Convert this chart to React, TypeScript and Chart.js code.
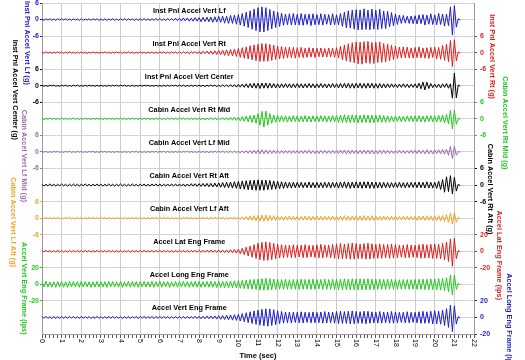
import React, { useEffect, useRef } from 'react';
import { Chart, registerables } from 'chart.js';

Chart.register(...registerables);

// ---------- data ----------
const SAMPLE_STEP = 0.1; // seconds between stored samples
const TIME_TICKS = [0, 1, 2, 3, 4, 5, 6, 7, 8, 9, 10, 11, 12, 13, 14, 15, 16, 17, 18, 19, 20, 21, 22];
const TRACE_NAMES = [
  'Inst Pnl Accel Vert Lf',
  'Inst Pnl Accel Vert Rt',
  'Inst Pnl Accel Vert Center',
  'Cabin Accel Vert Rt Mid',
  'Cabin Accel Vert Lf Mid',
  'Cabin Accel Vert Rt Aft',
  'Cabin Accel Vert Lf Aft',
  'Accel Lat Eng Frame',
  'Accel Long Eng Frame',
  'Accel Vert Eng Frame',
];
const AXIS_TITLES = [
  'Inst Pnl Accel Vert Lf (g)',
  'Inst Pnl Accel Vert Rt (g)',
  'Inst Pnl Accel Vert Center (g)',
  'Cabin Accel Vert Rt Mid (g)',
  'Cabin Accel Vert Lf Mid (g)',
  'Cabin Accel Vert Rt Aft (g)',
  'Cabin Accel Vert Lf Aft (g)',
  'Accel Lat Eng Frame (ips)',
  'Accel Vert Eng Frame (ips)',
  'Accel Long Eng Frame (ips)',
];
const AXIS_LIMITS = [6, 6, 6, 6, 6, 6, 6, 20, 20, 20];
const X_AXIS_TITLE = 'Time (sec)';

const instPnlVertLf = [
  0.2,-0.3,0.3,-0.2,0.3,-0.3,0.2,-0.3,0.3,-0.2,
  0.3,-0.2,0.3,-0.3,0.2,-0.3,0.3,-0.2,0.2,-0.3,
  0.3,-0.3,0.2,-0.2,0.3,-0.3,0.3,-0.2,0.3,-0.3,
  0.2,-0.3,0.3,-0.3,0.2,-0.2,0.3,-0.3,0.2,-0.3,
  0.3,-0.2,0.3,-0.3,0.3,-0.2,0.2,-0.3,0.3,-0.3,
  0.3,-0.3,0.4,-0.3,0.3,-0.4,0.3,-0.3,0.4,-0.3,
  0.4,-0.4,0.3,-0.4,0.4,-0.3,0.4,-0.4,0.5,-0.4,
  0.5,-0.5,0.6,-0.5,0.6,-0.6,0.5,-0.6,0.7,-0.6,
  0.7,-0.8,0.8,-0.7,0.9,-0.8,0.9,-1.0,1.0,-0.9,
  1.1,-1.0,1.2,-1.3,1.2,-1.4,1.5,-1.4,1.6,-1.7,
  1.8,-2.0,2.2,-2.4,2.7,-2.9,3.2,-3.5,3.8,-4.0,
  4.3,-4.5,4.6,-4.5,4.3,-4.0,3.7,-3.4,3.1,-2.9,
  2.7,-2.5,2.3,-2.1,2.0,-1.9,2.1,-2.0,2.2,-2.0,
  1.9,-2.0,2.2,-2.1,1.9,-1.8,2.0,-2.2,2.1,-1.9,
  1.8,-1.9,2.1,-2.0,1.9,-1.7,1.8,-2.0,2.1,-1.9,
  1.7,-1.9,2.2,-2.5,2.7,-3.0,3.2,-3.1,3.4,-3.5,
  3.6,-3.8,3.5,-3.7,3.9,-3.6,3.4,-3.7,3.8,-3.5,
  3.4,-3.6,3.7,-3.3,3.1,-3.3,3.0,-2.7,2.5,-2.3,
  2.0,-1.8,1.6,-1.4,1.5,-1.3,1.2,-1.4,1.3,-1.5,
  1.4,-1.6,1.7,-1.5,1.8,-2.0,1.6,-1.7,2.1,-1.8,
  1.7,-1.9,2.2,-1.8,2.0,-2.4,1.9,-2.2,4.6,-5.6,
  5.0,-2.8,0.3,-0.2,
];
const instPnlVertRt = [
  0.2,-0.2,0.3,-0.2,0.2,-0.3,0.2,-0.2,0.3,-0.2,
  0.2,-0.3,0.2,-0.2,0.3,-0.2,0.2,-0.3,0.2,-0.2,
  0.3,-0.2,0.2,-0.3,0.2,-0.2,0.3,-0.2,0.2,-0.3,
  0.2,-0.2,0.3,-0.2,0.2,-0.3,0.2,-0.2,0.3,-0.2,
  0.2,-0.3,0.2,-0.2,0.3,-0.2,0.2,-0.3,0.2,-0.2,
  0.3,-0.2,0.2,-0.3,0.2,-0.2,0.3,-0.3,0.2,-0.3,
  0.3,-0.2,0.3,-0.3,0.2,-0.3,0.3,-0.2,0.3,-0.3,
  0.3,-0.3,0.4,-0.3,0.3,-0.4,0.4,-0.3,0.4,-0.4,
  0.4,-0.5,0.5,-0.4,0.6,-0.5,0.6,-0.6,0.7,-0.7,
  0.8,-0.8,0.9,-1.0,1.0,-1.1,1.2,-1.2,1.3,-1.4,
  1.5,-1.7,1.8,-2.0,2.1,-2.3,2.5,-2.6,2.8,-2.9,
  3.0,-3.2,3.3,-3.2,3.3,-3.1,3.0,-2.8,2.7,-2.5,
  2.4,-2.3,2.2,-2.1,2.0,-1.9,2.0,-1.8,1.9,-2.0,
  1.8,-1.7,1.9,-1.8,1.6,-1.7,1.8,-1.6,1.7,-1.8,
  1.6,-1.5,1.7,-1.6,1.5,-1.6,1.7,-1.5,1.6,-1.7,
  1.8,-2.0,2.3,-2.6,2.8,-3.0,3.2,-3.4,3.6,-3.7,
  3.9,-4.1,3.8,-4.2,4.0,-3.8,4.1,-3.9,3.7,-4.0,
  3.8,-3.6,3.9,-3.5,3.3,-3.4,3.1,-2.9,2.7,-2.5,
  2.3,-2.1,2.0,-1.9,2.1,-1.8,2.0,-1.9,1.7,-2.0,
  1.9,-1.8,2.1,-1.9,1.7,-2.0,1.8,-2.1,1.9,-1.7,
  2.0,-2.2,1.9,-2.4,2.6,-2.8,3.0,-3.3,4.4,-5.0,
  4.7,-3.0,0.3,-0.2,
];
const instPnlVertCenter = [
  0.2,-0.2,0.1,-0.2,0.2,-0.1,0.2,-0.2,0.1,-0.2,
  0.2,-0.1,0.2,-0.2,0.1,-0.2,0.2,-0.1,0.2,-0.2,
  0.1,-0.2,0.2,-0.2,0.2,-0.1,0.1,-0.2,0.2,-0.2,
  0.2,-0.2,0.1,-0.2,0.2,-0.2,0.2,-0.1,0.2,-0.2,
  0.2,-0.1,0.2,-0.2,0.1,-0.2,0.2,-0.2,0.1,-0.2,
  0.2,-0.2,0.2,-0.1,0.2,-0.2,0.1,-0.2,0.2,-0.2,
  0.1,-0.2,0.2,-0.2,0.2,-0.2,0.2,-0.1,0.2,-0.2,
  0.2,-0.2,0.2,-0.2,0.1,-0.2,0.2,-0.2,0.2,-0.2,
  0.2,-0.2,0.2,-0.3,0.2,-0.2,0.3,-0.2,0.2,-0.3,
  0.2,-0.3,0.3,-0.3,0.3,-0.4,0.4,-0.4,0.4,-0.5,
  0.5,-0.5,0.6,-0.6,0.7,-0.7,0.8,-0.8,0.9,-0.9,
  0.9,-1.0,1.0,-0.9,1.0,-0.9,0.9,-0.8,0.8,-0.8,
  0.7,-0.8,0.7,-0.7,0.8,-0.7,0.7,-0.8,0.7,-0.7,
  0.8,-0.7,0.7,-0.8,0.7,-0.7,0.8,-0.7,0.7,-0.8,
  0.7,-0.7,0.8,-0.7,0.7,-0.8,0.7,-0.7,0.8,-0.7,
  0.7,-0.8,0.8,-0.8,0.9,-0.8,0.9,-0.9,0.8,-0.9,
  0.9,-0.8,0.9,-0.9,0.8,-0.9,0.9,-0.8,0.9,-0.9,
  0.8,-0.9,0.8,-0.8,0.7,-0.8,0.7,-0.7,0.7,-0.6,
  0.6,-0.7,0.6,-0.6,0.7,-0.6,0.6,-0.7,0.6,-0.6,
  0.7,-0.8,0.9,-1.1,1.3,-1.5,1.3,-1.0,0.8,-0.7,
  0.6,-0.7,0.6,-0.8,0.7,-0.6,0.8,-0.9,0.7,-4.5,
  4.6,-4.4,0.3,-0.2,
];
const cabinVertRtMid = [
  0.2,-0.3,0.2,-0.2,0.3,-0.2,0.2,-0.3,0.2,-0.2,
  0.3,-0.2,0.2,-0.3,0.2,-0.2,0.3,-0.2,0.2,-0.3,
  0.2,-0.2,0.3,-0.2,0.2,-0.3,0.2,-0.2,0.3,-0.2,
  0.2,-0.3,0.2,-0.2,0.3,-0.2,0.2,-0.3,0.2,-0.2,
  0.3,-0.2,0.2,-0.3,0.2,-0.2,0.3,-0.2,0.2,-0.3,
  0.2,-0.2,0.3,-0.2,0.2,-0.3,0.2,-0.3,0.3,-0.2,
  0.3,-0.3,0.2,-0.3,0.3,-0.2,0.3,-0.3,0.2,-0.3,
  0.3,-0.2,0.3,-0.3,0.3,-0.3,0.2,-0.3,0.3,-0.3,
  0.3,-0.3,0.3,-0.4,0.3,-0.3,0.4,-0.3,0.4,-0.4,
  0.3,-0.3,0.4,-0.4,0.4,-0.5,0.5,-0.5,0.6,-0.6,
  0.7,-0.8,0.8,-0.9,1.0,-1.1,1.2,-1.3,1.4,-1.6,
  1.9,-2.3,2.7,-3.0,2.8,-2.3,1.9,-1.6,1.4,-1.3,
  1.2,-1.1,1.2,-1.0,1.1,-1.2,1.0,-1.1,1.2,-1.0,
  1.1,-1.2,1.0,-1.1,1.2,-1.1,1.0,-1.2,1.1,-1.0,
  1.0,-1.1,1.2,-1.0,1.1,-1.2,1.0,-1.1,1.2,-1.1,
  1.2,-1.3,1.4,-1.3,1.5,-1.4,1.3,-1.4,1.5,-1.3,
  1.4,-1.5,1.3,-1.4,1.5,-1.3,1.4,-1.5,1.3,-1.4,
  1.3,-1.2,1.4,-1.3,1.2,-1.3,1.1,-1.2,1.0,-1.1,
  1.0,-0.9,1.0,-1.1,0.9,-1.0,1.1,-0.9,1.0,-1.0,
  1.1,-1.0,1.2,-1.1,1.0,-1.2,1.1,-1.0,1.2,-1.1,
  1.1,-1.2,1.3,-1.1,1.4,-1.5,1.6,-1.8,3.0,-3.6,
  3.2,-2.0,0.2,-0.2,
];
const cabinVertLfMid = [
  0.2,-0.1,0.2,-0.2,0.1,-0.2,0.2,-0.1,0.2,-0.2,
  0.1,-0.2,0.2,-0.1,0.2,-0.2,0.1,-0.2,0.2,-0.1,
  0.2,-0.2,0.1,-0.2,0.2,-0.1,0.2,-0.2,0.1,-0.2,
  0.2,-0.1,0.2,-0.2,0.2,-0.2,0.1,-0.2,0.2,-0.1,
  0.1,-0.2,0.2,-0.2,0.1,-0.2,0.2,-0.1,0.2,-0.2,
  0.2,-0.2,0.1,-0.2,0.2,-0.2,0.2,-0.1,0.2,-0.2,
  0.2,-0.1,0.2,-0.2,0.2,-0.2,0.1,-0.2,0.2,-0.2,
  0.2,-0.2,0.2,-0.1,0.2,-0.2,0.2,-0.2,0.1,-0.2,
  0.2,-0.2,0.2,-0.2,0.2,-0.3,0.2,-0.2,0.3,-0.2,
  0.3,-0.2,0.3,-0.3,0.2,-0.3,0.3,-0.3,0.3,-0.3,
  0.3,-0.4,0.4,-0.4,0.5,-0.5,0.5,-0.6,0.6,-0.6,
  0.7,-0.7,0.8,-0.7,0.7,-0.7,0.6,-0.6,0.6,-0.5,
  0.5,-0.6,0.5,-0.5,0.6,-0.5,0.5,-0.6,0.5,-0.5,
  0.6,-0.5,0.5,-0.6,0.6,-0.5,0.6,-0.6,0.5,-0.6,
  0.5,-0.6,0.6,-0.5,0.6,-0.6,0.5,-0.6,0.6,-0.5,
  0.6,-0.6,0.7,-0.6,0.7,-0.7,0.6,-0.7,0.7,-0.6,
  0.7,-0.7,0.6,-0.7,0.7,-0.6,0.7,-0.7,0.6,-0.7,
  0.6,-0.7,0.6,-0.6,0.7,-0.6,0.6,-0.6,0.5,-0.6,
  0.5,-0.5,0.6,-0.5,0.5,-0.6,0.5,-0.5,0.6,-0.5,
  0.6,-0.6,0.7,-0.6,0.6,-0.7,0.8,-0.7,0.6,-0.7,
  0.7,-0.6,0.8,-0.7,0.9,-0.8,1.0,-1.2,2.0,-2.4,
  2.0,-1.2,0.2,-0.1,
];
const cabinVertRtAft = [
  0.3,-0.4,0.3,-0.3,0.4,-0.3,0.3,-0.4,0.3,-0.3,
  0.4,-0.3,0.3,-0.4,0.3,-0.3,0.4,-0.3,0.3,-0.4,
  0.3,-0.3,0.4,-0.3,0.3,-0.4,0.3,-0.3,0.4,-0.3,
  0.3,-0.4,0.3,-0.3,0.4,-0.3,0.3,-0.4,0.3,-0.3,
  0.4,-0.3,0.3,-0.4,0.3,-0.3,0.4,-0.3,0.3,-0.4,
  0.3,-0.3,0.4,-0.4,0.3,-0.4,0.4,-0.3,0.4,-0.4,
  0.4,-0.4,0.3,-0.4,0.4,-0.4,0.4,-0.3,0.4,-0.4,
  0.4,-0.4,0.4,-0.5,0.4,-0.4,0.5,-0.4,0.5,-0.5,
  0.5,-0.5,0.6,-0.5,0.6,-0.6,0.6,-0.7,0.7,-0.7,
  0.8,-0.8,0.9,-0.9,1.0,-1.0,1.1,-1.1,1.2,-1.2,
  1.3,-1.4,1.5,-1.5,1.6,-1.7,1.7,-1.8,1.8,-1.9,
  1.9,-1.9,1.8,-1.9,1.8,-1.7,1.7,-1.6,1.5,-1.5,
  1.4,-1.3,1.2,-1.2,1.1,-1.1,1.0,-1.1,1.0,-1.0,
  1.0,-0.9,1.0,-1.0,0.9,-1.0,1.1,-1.0,0.9,-1.0,
  1.0,-1.0,0.9,-1.0,1.0,-0.9,1.0,-1.1,1.0,-0.9,
  1.0,-1.1,1.1,-1.0,1.2,-1.1,1.1,-1.2,1.1,-1.1,
  1.2,-1.1,1.1,-1.2,1.2,-1.1,1.2,-1.2,1.1,-1.2,
  1.1,-1.1,1.0,-1.1,1.0,-1.0,0.9,-1.0,0.9,-0.9,
  0.9,-0.9,1.0,-0.9,0.9,-1.0,0.9,-0.9,1.0,-0.9,
  1.0,-1.0,1.1,-1.0,1.0,-1.1,1.2,-1.1,1.0,-1.1,
  1.0,-1.2,1.4,-1.6,2.0,-2.6,3.0,-2.4,3.4,-3.2,
  2.8,-2.2,0.3,-0.2,
];
const cabinVertLfAft = [
  0.3,-0.2,0.3,-0.3,0.2,-0.3,0.3,-0.2,0.3,-0.3,
  0.2,-0.3,0.3,-0.2,0.3,-0.3,0.2,-0.3,0.3,-0.2,
  0.3,-0.3,0.2,-0.3,0.3,-0.2,0.3,-0.3,0.2,-0.3,
  0.3,-0.2,0.3,-0.3,0.3,-0.3,0.2,-0.3,0.3,-0.2,
  0.2,-0.3,0.3,-0.3,0.2,-0.3,0.3,-0.2,0.3,-0.3,
  0.3,-0.3,0.2,-0.3,0.3,-0.3,0.3,-0.2,0.3,-0.3,
  0.3,-0.2,0.3,-0.3,0.3,-0.3,0.2,-0.3,0.3,-0.3,
  0.3,-0.3,0.3,-0.2,0.3,-0.3,0.3,-0.3,0.2,-0.3,
  0.3,-0.3,0.3,-0.3,0.3,-0.4,0.3,-0.3,0.4,-0.3,
  0.4,-0.3,0.4,-0.4,0.3,-0.4,0.4,-0.4,0.4,-0.4,
  0.4,-0.5,0.5,-0.5,0.6,-0.7,0.8,-0.8,0.9,-1.0,
  1.0,-1.1,1.2,-1.2,1.1,-1.1,1.0,-0.9,0.9,-0.8,
  0.8,-0.7,0.7,-0.8,0.7,-0.7,0.8,-0.7,0.7,-0.7,
  0.7,-0.8,0.7,-0.7,0.8,-0.7,0.7,-0.8,0.7,-0.7,
  0.8,-0.7,0.7,-0.8,0.7,-0.7,0.7,-0.8,0.8,-0.7,
  0.7,-0.8,0.8,-0.8,0.9,-0.8,0.8,-0.9,0.8,-0.8,
  0.9,-0.8,0.8,-0.9,0.9,-0.8,0.8,-0.9,0.9,-0.8,
  0.8,-0.8,0.7,-0.8,0.8,-0.7,0.7,-0.8,0.7,-0.7,
  0.7,-0.7,0.6,-0.7,0.7,-0.6,0.7,-0.7,0.6,-0.7,
  0.7,-0.8,0.8,-0.7,0.8,-0.8,0.9,-0.8,0.8,-0.9,
  0.8,-0.9,0.9,-1.0,1.0,-1.2,1.3,-1.5,1.8,-2.2,
  2.0,-1.5,0.2,-0.2,
];
const accelLatEngFrame = [
  1.2,-1.0,1.3,-1.1,1.0,-1.2,1.1,-1.3,1.2,-1.0,
  1.1,-1.2,1.0,-1.3,1.2,-1.1,1.3,-1.0,1.1,-1.2,
  1.3,-1.1,1.2,-1.0,1.1,-1.3,1.0,-1.2,1.3,-1.1,
  1.0,-1.2,1.1,-1.3,1.2,-1.0,1.3,-1.1,1.0,-1.2,
  1.2,-1.3,1.0,-1.1,1.3,-1.2,1.1,-1.0,1.2,-1.3,
  1.1,-1.0,1.3,-1.2,1.0,-1.1,1.2,-1.3,1.1,-1.0,
  1.3,-1.2,1.1,-1.0,1.2,-1.3,1.0,-1.1,1.3,-1.2,
  1.2,-1.1,1.3,-1.2,1.1,-1.3,1.2,-1.1,1.3,-1.3,
  1.3,-1.4,1.2,-1.3,1.4,-1.3,1.5,-1.4,1.3,-1.5,
  1.5,-1.6,1.4,-1.7,1.6,-1.8,1.9,-2.0,2.1,-2.3,
  2.6,-3.0,3.5,-4.1,4.8,-5.6,6.4,-7.2,8.0,-8.8,
  9.6,-10.2,10.8,-11.2,11.4,-11.0,10.6,-10.1,9.6,-9.1,
  8.6,-8.2,7.9,-7.7,7.5,-7.3,7.4,-7.6,7.8,-7.6,
  7.3,-7.0,7.4,-7.8,8.1,-7.7,7.2,-6.9,7.1,-7.5,
  7.8,-8.2,8.4,-8.0,7.7,-7.3,7.6,-7.9,8.3,-8.6,
  8.9,-9.2,9.5,-9.1,8.8,-9.0,9.4,-9.7,9.9,-9.6,
  9.3,-9.0,8.6,-8.8,9.3,-9.6,9.8,-9.5,9.0,-8.7,
  8.4,-8.6,8.9,-8.5,8.1,-7.9,8.2,-8.6,8.8,-8.4,
  8.0,-7.7,7.4,-7.2,7.5,-7.9,8.1,-7.8,7.4,-7.2,
  7.3,-7.7,8.0,-8.4,8.6,-8.3,7.9,-8.1,8.5,-8.8,
  9.0,-8.6,8.3,-9.0,9.6,-10.4,11.2,-12.4,15.0,-18.0,
  16.0,-9.0,1.0,-0.8,
];
const accelLongEngFrame = [
  3.4,-3.1,3.6,-3.3,3.0,-3.5,3.2,-3.6,3.4,-3.0,
  3.3,-3.5,3.1,-3.6,3.5,-3.2,3.6,-3.0,3.3,-3.5,
  3.6,-3.2,3.4,-3.0,3.2,-3.6,3.0,-3.4,3.6,-3.2,
  3.1,-3.4,3.3,-3.6,3.5,-3.0,3.6,-3.3,3.0,-3.4,
  3.5,-3.6,3.0,-3.2,3.6,-3.4,3.2,-3.1,3.4,-3.6,
  3.2,-3.0,3.6,-3.4,3.1,-3.3,3.5,-3.6,3.2,-3.0,
  3.6,-3.4,3.2,-3.0,3.4,-3.6,3.0,-3.2,3.6,-3.5,
  3.4,-3.2,3.6,-3.5,3.2,-3.6,3.4,-3.1,3.6,-3.4,
  3.5,-3.6,3.3,-3.4,3.7,-3.5,3.8,-3.6,3.5,-3.8,
  3.8,-3.9,3.6,-4.0,3.9,-4.1,4.0,-4.2,4.3,-4.4,
  4.5,-4.7,4.9,-5.1,5.3,-5.5,5.7,-5.9,6.1,-6.3,
  6.5,-6.8,7.0,-7.2,7.3,-7.1,6.9,-6.7,6.5,-6.3,
  6.1,-5.9,5.8,-6.0,6.2,-5.9,5.7,-5.9,6.1,-6.0,
  5.8,-6.0,6.2,-6.1,5.9,-5.7,5.9,-6.2,6.3,-6.0,
  5.8,-5.6,5.9,-6.1,6.3,-6.0,5.7,-5.9,6.2,-6.3,
  6.4,-6.6,6.3,-6.5,6.7,-6.4,6.2,-6.5,6.8,-6.6,
  6.5,-6.7,6.9,-6.6,6.4,-6.6,6.8,-6.5,6.3,-6.4,
  6.2,-6.0,6.3,-6.1,5.9,-6.2,6.0,-5.8,6.1,-5.9,
  5.7,-5.9,5.6,-5.8,6.0,-5.7,5.8,-5.9,5.6,-5.8,
  5.9,-6.1,6.2,-6.0,6.3,-6.5,6.1,-6.4,6.6,-6.3,
  6.5,-6.8,7.0,-6.7,7.2,-7.6,8.0,-8.8,11.0,-13.0,
  11.0,-6.0,1.5,-1.0,
];
const accelVertEngFrame = [
  1.3,-1.1,1.4,-1.2,1.0,-1.3,1.2,-1.4,1.1,-1.2,
  1.2,-1.4,1.1,-1.3,1.4,-1.0,1.3,-1.2,1.1,-1.4,
  1.4,-1.2,1.3,-1.1,1.2,-1.4,1.0,-1.3,1.4,-1.1,
  1.1,-1.3,1.2,-1.4,1.3,-1.1,1.4,-1.2,1.0,-1.3,
  1.3,-1.4,1.1,-1.2,1.4,-1.3,1.2,-1.1,1.3,-1.4,
  1.2,-1.1,1.4,-1.3,1.1,-1.2,1.3,-1.4,1.2,-1.1,
  1.4,-1.3,1.2,-1.1,1.3,-1.4,1.1,-1.2,1.4,-1.3,
  1.3,-1.2,1.4,-1.3,1.2,-1.4,1.3,-1.2,1.5,-1.4,
  1.5,-1.6,1.4,-1.5,1.7,-1.6,1.8,-1.7,1.9,-2.0,
  2.1,-2.2,2.3,-2.5,2.6,-2.8,3.0,-3.2,3.4,-3.6,
  3.9,-4.3,4.7,-5.2,5.7,-6.2,6.8,-7.3,7.9,-8.4,
  8.9,-9.4,9.8,-10.2,10.5,-10.6,10.3,-9.8,9.3,-8.7,
  8.1,-7.6,7.2,-6.9,6.6,-6.4,6.5,-6.7,6.4,-6.2,
  6.3,-6.5,6.8,-6.6,6.3,-6.0,6.2,-6.5,6.7,-6.4,
  6.1,-6.3,6.6,-6.9,7.1,-6.8,6.5,-6.3,6.6,-6.9,
  7.2,-7.4,7.6,-7.3,7.0,-7.2,7.5,-7.7,7.9,-7.6,
  7.3,-7.1,6.9,-7.2,7.6,-7.8,7.4,-7.1,6.8,-6.6,
  6.5,-6.8,7.1,-6.9,6.6,-6.4,6.6,-6.9,7.2,-7.0,
  6.7,-6.4,6.2,-6.0,6.3,-6.6,6.9,-6.5,6.2,-6.0,
  6.2,-6.5,6.9,-7.2,7.4,-7.1,6.8,-7.0,7.5,-7.8,
  8.1,-7.7,7.4,-8.2,8.9,-9.8,10.6,-12.0,15.0,-17.0,
  14.0,-8.0,1.0,-0.8,
];

const SERIES = [
  instPnlVertLf, instPnlVertRt, instPnlVertCenter, cabinVertRtMid, cabinVertLfMid,
  cabinVertRtAft, cabinVertLfAft, accelLatEngFrame, accelLongEngFrame, accelVertEngFrame,
];

// ---------- styles / layout ----------
const COLORS = ['#1c1cc8', '#dc1e1e', '#000000', '#22c81e', '#9a6bb0', '#000000', '#f0a428', '#dc1e1e', '#22c81e', '#1c1cc8'];
const AXIS_COLORS = ['#1c1cc8', '#dc1e1e', '#000000', '#22c81e', '#9a6bb0', '#000000', '#f0a428', '#dc1e1e', '#22c81e', '#1c1cc8'];
const SIDES = ['left', 'right', 'left', 'right', 'left', 'right', 'left', 'right', 'left', 'right'];
const TITLE_X = [27, 492, 15, 505, 24, 490, 13, 499, 24, 509];
const NAME_TIME = 7.5;
const FONT = '"Liberation Sans", Arial, Helvetica, sans-serif';
const LEFT_W = 42;
const RIGHT_W = 51;
const BOTTOM_H = 26;

const axisId = (i: number, side: string) => `y${i}${side === 'left' ? 'L' : 'R'}`;

const stripText = {
  id: 'stripText',
  afterDraw(chart: any) {
    const { ctx, scales } = chart;
    const xs = scales.x;
    ctx.save();
    // x tick labels, rotated to read downward
    ctx.font = `7px ${FONT}`;
    ctx.fillStyle = '#000';
    ctx.textAlign = 'left';
    ctx.textBaseline = 'middle';
    TIME_TICKS.forEach((v) => {
      ctx.save();
      ctx.translate(xs.getPixelForValue(v), xs.top + 5);
      ctx.rotate(Math.PI / 2);
      ctx.fillText(String(v), 0, 0);
      ctx.restore();
    });
    ctx.font = `bold 7.3px ${FONT}`;
    SERIES.forEach((_, i) => {
      const ys = scales[axisId(i, SIDES[i])];
      const yc = ys.getPixelForValue(0);
      ctx.textAlign = 'center';
      ctx.textBaseline = 'middle';
      ctx.fillStyle = '#000';
      ctx.fillText(TRACE_NAMES[i], xs.getPixelForValue(NAME_TIME), yc - 9);
      const w = ctx.measureText(AXIS_TITLES[i]).width;
      let mid = yc + 4;
      if (mid - w / 2 < 1) mid = 1 + w / 2;
      ctx.save();
      ctx.translate(TITLE_X[i], mid);
      ctx.rotate(Math.PI / 2);
      ctx.fillStyle = AXIS_COLORS[i];
      ctx.fillText(AXIS_TITLES[i], 0, 0);
      ctx.restore();
    });
    ctx.restore();
  },
};

export default function App() {
  const ref = useRef<HTMLCanvasElement | null>(null);

  useEffect(() => {
    document.body.style.margin = '0';
    const canvas = ref.current;
    if (!canvas) return;

    const scales: any = {
      x: {
        type: 'linear',
        position: 'bottom',
        min: 0,
        max: 22,
        ticks: {
          stepSize: 0.2,
          autoSkip: false,
          maxRotation: 0,
          minRotation: 0,
          callback: () => '',
        },
        grid: {
          color: (c: any) => {
            const v = c.tick ? c.tick.value : 0;
            return Math.abs(v - Math.round(v)) < 1e-6 ? '#cccccc' : 'rgba(0,0,0,0)';
          },
          tickColor: '#555555',
          tickLength: 4,
          lineWidth: 1,
        },
        border: { color: '#9a9a9a' },
        title: {
          display: true,
          text: X_AXIS_TITLE,
          color: '#000',
          font: { family: FONT, size: 7.5, weight: 'bold' },
          padding: { top: 0, bottom: 0 },
        },
        afterFit: (s: any) => {
          s.height = BOTTOM_H;
          s.paddingLeft = 0;
          s.paddingRight = 0;
        },
      },
    };

    SERIES.forEach((_, i) => {
      ['left', 'right'].forEach((side) => {
        const main = SIDES[i] === side;
        const R = AXIS_LIMITS[i];
        const width = side === 'left' ? LEFT_W : RIGHT_W;
        scales[axisId(i, side)] = {
          type: 'linear',
          position: side,
          stack: 'strips',
          stackWeight: 1,
          weight: side === 'left' ? 100 - i : i,
          min: main ? -R : -1,
          max: main ? R : 1,
          ticks: main
            ? {
                display: true,
                stepSize: R,
                autoSkip: false,
                color: AXIS_COLORS[i],
                font: { family: FONT, size: 7, weight: 'bold' },
                padding: side === 'left' ? 1 : 3,
              }
            : { display: false },
          grid: main
            ? {
                display: true,
                color: '#d2d2d2',
                tickColor: AXIS_COLORS[i],
                tickLength: side === 'left' ? 2 : 3,
              }
            : { display: false },
          border: { display: true, color: '#9a9a9a' },
          afterFit: (s: any) => {
            s.width = width;
            s.paddingTop = 0;
            s.paddingBottom = 0;
          },
        };
      });
    });

    const chart = new Chart(canvas, {
      type: 'line',
      data: {
        datasets: SERIES.map((values, i) => ({
          label: TRACE_NAMES[i],
          data: values.map((v, k) => ({ x: Math.round(k * SAMPLE_STEP * 10) / 10, y: v })),
          xAxisID: 'x',
          yAxisID: axisId(i, SIDES[i]),
          borderColor: COLORS[i],
          backgroundColor: COLORS[i],
          borderWidth: 1,
          pointRadius: 0,
          tension: 0,
          fill: false,
          clip: false as any,
        })),
      },
      options: {
        animation: false,
        responsive: false,
        maintainAspectRatio: false,
        devicePixelRatio: 1,
        layout: { padding: { top: 3, left: 0, right: 0, bottom: 0 } },
        plugins: {
          legend: { display: false },
          tooltip: { enabled: false },
          title: { display: false },
        },
        scales,
      },
      plugins: [stripText],
    } as any);

    return () => chart.destroy();
  }, []);

  return (
    <div style={{ width: 525, height: 360, background: '#ffffff' }}>
      <canvas ref={ref} width={525} height={360} style={{ display: 'block' }} />
    </div>
  );
}
